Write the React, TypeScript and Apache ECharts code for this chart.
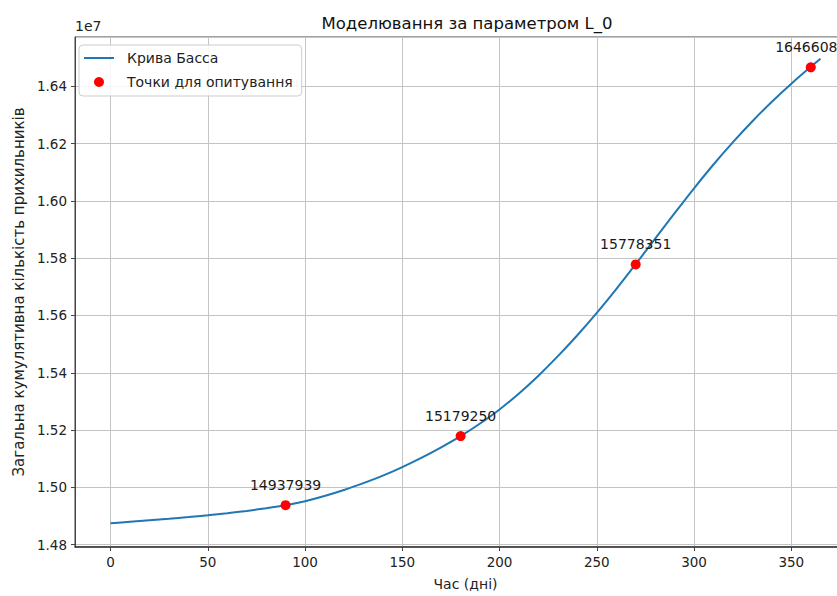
import React, { useEffect, useRef } from "react";
import * as echarts from "echarts";

const curveDays = [0, 10, 20, 30, 40, 50, 60, 70, 80, 90, 100, 110, 120, 130, 140, 150, 160, 170, 180, 190, 200, 210, 220, 230, 240, 250, 260, 270, 280, 290, 300, 310, 320, 330, 340, 350, 360, 365];
const curveValues = [14875000, 14880000, 14885200, 14890700, 14896600, 14903000, 14910000, 14918000, 14927300, 14938000, 14952000, 14970000, 14991000, 15015000, 15041000, 15071000, 15104000, 15140000, 15179000, 15223000, 15272000, 15328000, 15390000, 15458000, 15531000, 15609000, 15692000, 15779000, 15868000, 15957000, 16044000, 16127000, 16205000, 16278000, 16346000, 16409000, 16468000, 16496000];
const surveyDays = [90, 180, 270, 360];
const surveyValues = [14937939, 15179250, 15778351, 16466083];

const FONT = "DejaVu Sans";

export default function App() {
  const ref = useRef<HTMLDivElement>(null);
  useEffect(() => {
    if (!ref.current) return;
    const chart = echarts.init(ref.current, null, { renderer: "svg" });
    chart.setOption({
      animation: false,
      backgroundColor: "#ffffff",
      title: {
        text: "Моделювання за параметром L_0",
        left: 462,
        top: 10,
        textAlign: "center",
        textStyle: { fontFamily: FONT, fontSize: 16.5, fontWeight: "normal", color: "#111" },
      },
      graphic: [
        {
          type: "text",
          left: 75,
          top: 19,
          style: { text: "1e7", font: `14px "${FONT}"`, fill: "#222" },
        },
      ],
      legend: {
        orient: "vertical",
        left: 79,
        top: 45,
        padding: [6, 9, 7, 5],
        itemGap: 10,
        itemWidth: 30,
        itemHeight: 10,
        borderColor: "#cccccc",
        borderWidth: 1,
        borderRadius: 4,
        backgroundColor: "rgba(255,255,255,0.85)",
        textStyle: { fontFamily: FONT, fontSize: 14, color: "#222", padding: [0, 0, 0, 8] },
        data: [
          { name: "Крива Басса", icon: "path://M0,0L30,0L30,2L0,2Z" },
          { name: "Точки для опитування", icon: "circle" },
        ],
      },
      grid: {
        left: 75,
        top: 37,
        width: 781,
        height: 512,
        show: true,
        borderColor: "#444",
        borderWidth: 1,
        containLabel: false,
      },
      xAxis: {
        type: "value",
        min: -18.25,
        max: 383.25,
        splitNumber: 8,
        name: "Час (дні)",
        nameLocation: "middle",
        nameGap: 30,
        nameTextStyle: { fontFamily: FONT, fontSize: 14, color: "#222" },
        axisLine: { show: true, onZero: false, lineStyle: { color: "#333", width: 1.5 } },
        axisTick: { show: true, length: 4, lineStyle: { color: "#444" } },
        axisLabel: { fontFamily: FONT, fontSize: 13.5, color: "#222", margin: 8, showMinLabel: false, showMaxLabel: false },
        splitLine: { show: true, lineStyle: { color: "#c4c4c4", width: 1 } },
      },
      yAxis: {
        type: "value",
        min: 14792000,
        max: 16572000,
        splitNumber: 9,
        name: "Загальна кумулятивна кількість прихильників",
        nameLocation: "middle",
        nameGap: 47,
        nameTextStyle: { fontFamily: FONT, fontSize: 15, color: "#222" },
        axisLine: { show: true, onZero: false, lineStyle: { color: "#444", width: 1 } },
        axisTick: { show: true, length: 4, lineStyle: { color: "#444" } },
        axisLabel: {
          fontFamily: FONT,
          fontSize: 13.5,
          color: "#222",
          margin: 8,
          showMinLabel: false,
          showMaxLabel: false,
          formatter: (v: number) => (v / 1e7).toFixed(2),
        },
        splitLine: { show: true, lineStyle: { color: "#c4c4c4", width: 1 } },
      },
      series: [
        {
          name: "Крива Басса",
          type: "line",
          data: curveDays.map((d, i) => [d, curveValues[i]]),
          smooth: 0.3,
          symbol: "none",
          lineStyle: { color: "#1f77b4", width: 2 },
          itemStyle: { color: "#1f77b4" },
          z: 2,
        },
        {
          name: "Точки для опитування",
          type: "scatter",
          data: surveyDays.map((d, i) => [d, surveyValues[i]]),
          symbolSize: 10,
          itemStyle: { color: "#ff0000", opacity: 1 },
          z: 3,
          label: {
            show: true,
            position: "top",
            distance: 8,
            fontFamily: FONT,
            fontSize: 14,
            color: "#1a1a1a",
            formatter: (p: any) => String(p.value[1]),
          },
        },
      ],
    });
    return () => chart.dispose();
  }, []);
  return (
    <div style={{ position: "fixed", left: 0, top: 0, width: 837, height: 596, overflow: "hidden", background: "#fff" }}>
      <div ref={ref} style={{ width: 870, height: 596 }} />
    </div>
  );
}
